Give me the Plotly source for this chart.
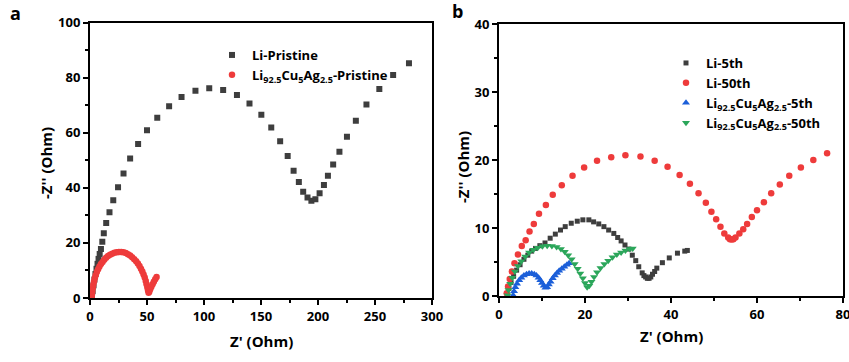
import plotly.graph_objects as go

# ---------------- Panel a data ----------------
li_pristine_x = [1.5, 2.3, 3.1, 3.9, 4.8, 5.7, 6.6, 7.5, 8.5, 9.6, 10.8, 12.1, 14.2, 17.1, 20.4, 24.6,
                 29.4, 35.2, 42.2, 50.0, 59.0, 69.4, 80.3, 92.5, 104.6, 116.8, 128.9, 139.9, 150.3,
                 159.0, 166.8, 173.4, 178.6, 183.2, 187.0, 190.8, 194.2, 197.7, 201.4, 205.2, 208.7,
                 213.3, 218.8, 225.4, 233.2, 242.5, 253.8, 265.9, 279.8]
li_pristine_y = [0.5, 2.5, 4.6, 6.7, 8.7, 10.6, 12.4, 14.2, 16.0, 17.8, 20.4, 23.5, 27.2, 31.1, 35.5, 40.2,
                 45.2, 50.6, 55.9, 60.9, 65.4, 69.6, 73.0, 75.2, 76.1, 75.5, 73.7, 70.6, 66.5,
                 61.9, 56.9, 51.5, 46.2, 42.1, 38.6, 36.5, 35.3, 35.8, 38.0, 41.0, 44.4,
                 48.5, 53.1, 58.5, 64.3, 70.2, 75.9, 80.9, 85.2]

alloy_pristine_x = [1.5, 1.7, 2.0, 2.4, 2.9, 3.5, 4.2, 5.0, 6.0, 7.1, 8.3, 9.6, 11.0, 12.5, 14.1, 15.8,
                    17.6, 19.5, 21.4, 23.4, 25.4, 27.4, 29.4, 31.4, 33.3, 35.2, 37.0, 38.8, 40.5, 42.0,
                    43.4, 44.7, 45.9, 47.0, 48.0, 48.9, 49.6, 50.3, 50.9, 51.4, 52.0, 52.8, 53.8, 54.9,
                    56.0, 57.2, 58.4]
alloy_pristine_y = [0.0, 1.2, 2.4, 3.6, 4.8, 6.0, 7.2, 8.3, 9.4, 10.4, 11.4, 12.3, 13.1, 13.9, 14.6, 15.2,
                    15.7, 16.1, 16.4, 16.6, 16.7, 16.7, 16.6, 16.3, 15.9, 15.4, 14.8, 14.1, 13.3, 12.5,
                    11.6, 10.6, 9.6, 8.5, 7.4, 6.2, 5.0, 3.8, 2.7, 1.9, 2.3, 3.2, 4.1, 5.0,
                    5.9, 6.8, 7.6]

# ---------------- Panel b data ----------------
li_5th_x = [1.9, 2.3, 2.8, 3.4, 4.1, 4.9, 5.8, 6.7, 7.6, 8.5, 9.5, 10.7, 11.9, 13.1, 14.3, 15.4, 16.8,
            18.2, 19.5, 20.9, 22.0, 23.2, 24.4, 25.5, 26.7, 27.6, 28.4, 29.3, 30.2, 31.0, 31.8, 32.5,
            33.3, 33.7, 34.1, 34.5, 34.9, 35.3, 35.7, 36.2, 36.7, 38.0, 39.6, 41.5, 43.2, 43.8]
li_5th_y = [0.2, 1.1, 2.0, 2.9, 3.8, 4.6, 5.4, 6.0, 6.6, 7.0, 7.4, 7.8, 8.5, 9.1, 9.7, 10.2, 10.7,
            11.0, 11.2, 11.2, 10.9, 10.6, 10.2, 9.7, 9.2, 8.6, 8.1, 7.5, 6.9, 6.0, 5.2, 4.3,
            3.4, 3.0, 2.8, 2.6, 2.6, 2.8, 3.2, 3.6, 4.1, 4.9, 5.6, 6.3, 6.6, 6.7]

li_50th_x = [1.8, 2.1, 2.5, 3.0, 3.6, 4.4, 5.3, 6.2, 7.1, 8.1, 9.3, 10.9, 12.5, 14.6, 17.1, 19.8, 22.8,
             26.1, 29.4, 32.9, 36.2, 39.2, 42.0, 44.4, 46.4, 48.1, 49.4, 50.5, 51.5, 52.4, 53.3,
             53.7, 54.1, 54.5, 55.0, 55.9, 56.8, 57.7, 58.8, 60.0, 61.6, 63.3, 65.3, 67.5, 70.2,
             73.1, 76.3]
li_50th_y = [0.4, 1.4, 2.5, 3.6, 4.8, 6.1, 7.35, 8.2, 9.5, 10.6, 12.1, 13.4, 14.9, 16.3, 17.7, 18.9, 19.9,
             20.4, 20.7, 20.5, 19.9, 19.0, 17.8, 16.5, 15.1, 13.7, 12.4, 11.3, 10.2, 9.2, 8.6,
             8.35, 8.3, 8.35, 8.6, 9.2, 9.8, 10.6, 11.6, 12.6, 13.8, 15.1, 16.4, 17.7, 18.9,
             20.0, 21.0]

alloy_5th_x = [3.3, 3.5, 3.8, 4.2, 4.7, 5.2, 5.8, 6.4, 7.0, 7.6, 8.2, 8.7, 9.2, 9.6, 10.0, 10.4, 10.8,
               11.2, 11.6, 12.0, 12.5, 13.0, 13.5, 14.0, 14.6, 15.2, 15.8, 16.3]
alloy_5th_y = [0.1, 0.7, 1.3, 1.8, 2.3, 2.7, 3.0, 3.2, 3.3, 3.3, 3.2, 3.0, 2.7, 2.3, 1.9, 1.5, 1.2,
               1.3, 1.7, 2.1, 2.6, 3.0, 3.4, 3.7, 4.0, 4.3, 4.6, 4.8]

alloy_50th_x = [2.0, 2.2, 2.6, 3.1, 3.7, 4.4, 5.2, 6.1, 7.0, 8.0, 9.0, 10.1, 11.2, 12.3, 13.4, 14.4,
                15.3, 16.1, 16.9, 17.6, 18.3, 18.9, 19.5, 20.0, 20.5, 21.0, 21.5, 22.1, 22.8, 23.6,
                24.5, 25.4, 26.4, 27.4, 28.4, 29.4, 30.4, 31.1]
alloy_50th_y = [0.1, 0.9, 1.8, 2.7, 3.6, 4.4, 5.1, 5.8, 6.4, 6.8, 7.1, 7.3, 7.4, 7.35, 7.2, 6.9,
                6.5, 6.0, 5.4, 4.7, 4.0, 3.3, 2.6, 1.9, 1.3, 1.5, 2.1, 2.8, 3.5, 4.1,
                4.7, 5.2, 5.7, 6.1, 6.4, 6.7, 6.9, 7.0]

# tick values
xa_ticks = [0, 50, 100, 150, 200, 250, 300]
ya_ticks = [0, 20, 40, 60, 80, 100]
xb_ticks = [0, 20, 40, 60, 80]
yb_ticks = [0, 10, 20, 30, 40]

GREY = "#3e3e3e"
RED = "#ee3b3b"
BLUE = "#1b5fd9"
GREEN = "#2ba65a"
FONT = "Open Sans"
ALLOY = "Li<sub>92.5</sub>Cu<sub>5</sub>Ag<sub>2.5</sub>"

W, H = 849, 362


def px(xp):
    return xp / W


def py(yp):
    return 1 - yp / H


def b(s):
    return "<b>" + s + "</b>"


fig = go.Figure()

fig.add_trace(go.Scatter(x=li_pristine_x, y=li_pristine_y, mode="markers", name=b("Li-Pristine"),
                         marker=dict(symbol="square", size=6, color=GREY),
                         xaxis="x", yaxis="y", legend="legend"))
fig.add_trace(go.Scatter(x=alloy_pristine_x, y=alloy_pristine_y, mode="markers",
                         name=b(ALLOY + "-Pristine"),
                         marker=dict(symbol="circle", size=6.5, color=RED),
                         xaxis="x", yaxis="y", legend="legend"))

fig.add_trace(go.Scatter(x=li_5th_x, y=li_5th_y, mode="markers", name=b("Li-5th"),
                         marker=dict(symbol="square", size=5, color=GREY),
                         xaxis="x2", yaxis="y2", legend="legend2"))
fig.add_trace(go.Scatter(x=li_50th_x, y=li_50th_y, mode="markers", name=b("Li-50th"),
                         marker=dict(symbol="circle", size=6.5, color=RED),
                         xaxis="x2", yaxis="y2", legend="legend2"))
fig.add_trace(go.Scatter(x=alloy_5th_x, y=alloy_5th_y, mode="markers", name=b(ALLOY + "-5th"),
                         marker=dict(symbol="triangle-up", size=7, color=BLUE),
                         xaxis="x2", yaxis="y2", legend="legend2"))
fig.add_trace(go.Scatter(x=alloy_50th_x, y=alloy_50th_y, mode="markers", name=b(ALLOY + "-50th"),
                         marker=dict(symbol="triangle-down", size=7, color=GREEN),
                         xaxis="x2", yaxis="y2", legend="legend2"))

tickfont = dict(family=FONT, size=13, color="black")


def axis(domain, rng, ticks, dtick_minor, anchor):
    return dict(domain=domain, range=rng, tickvals=ticks, ticktext=[b(str(t)) for t in ticks],
                anchor=anchor, automargin=False, ticklabeloverflow="allow",
                showline=True, linecolor="black", linewidth=2, mirror=True,
                ticks="outside", ticklen=5, tickwidth=2, tickcolor="black",
                minor=dict(ticks="outside", ticklen=3, tickwidth=1.5, tickcolor="black", dtick=dtick_minor,
                           showgrid=False),
                showgrid=False, zeroline=False, tickfont=tickfont,
                fixedrange=True)


legfont = dict(family=FONT, size=13, color="black")


def label(text, x, y, size=15, angle=0):
    return dict(text=b(text), x=px(x), y=py(y), xref="paper", yref="paper", showarrow=False,
                xanchor="center", yanchor="middle", textangle=angle,
                font=dict(family=FONT, size=size, color="black"))


fig.update_layout(
    width=W, height=H,
    margin=dict(l=0, r=0, t=0, b=0, autoexpand=False),
    paper_bgcolor="white", plot_bgcolor="white",
    xaxis=axis([px(90), px(432)], [0, 300], xa_ticks, 25, "y"),
    yaxis=axis([py(298), py(22.5)], [0, 100], ya_ticks, 10, "x"),
    xaxis2=axis([px(499), px(843)], [0, 80], xb_ticks, 10, "y2"),
    yaxis2=axis([py(296), py(24)], [0, 40], yb_ticks, 5, "x2"),
    legend=dict(x=px(212), y=py(40), xanchor="left", yanchor="top",
                bgcolor="rgba(0,0,0,0)", font=legfont, tracegroupgap=0, itemwidth=30),
    legend2=dict(x=px(666), y=py(48), xanchor="left", yanchor="top",
                 bgcolor="rgba(0,0,0,0)", font=legfont, tracegroupgap=0, itemwidth=30),
    annotations=[
        label("a", 16, 13, size=18),
        label("b", 458, 11, size=18),
        label("Z' (Ohm)", 261, 341),
        label("Z' (Ohm)", 671, 336),
        label("-Z'' (Ohm)", 46, 163, angle=-90),
        label("-Z'' (Ohm)", 463, 167, angle=-90),
    ],
    showlegend=True,
)

# remove the browser's default 8 px body margin so the figure fills the window exactly
fig.write_html("out.html", config={"displayModeBar": False},
               post_script="document.body.style.margin='0';")
